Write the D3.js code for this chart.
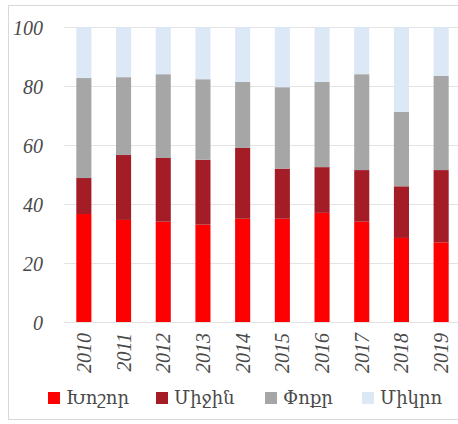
<!DOCTYPE html>
<html>
<head>
<meta charset="utf-8">
<script src="https://cdn.jsdelivr.net/npm/d3@7"></script>
<style>
  body { margin: 0; background: #fff; }
  svg { display: block; }
</style>
</head>
<body>
<div id="chart"></div>
<script>
// data (shares, %)
var years = ["2010", "2011", "2012", "2013", "2014", "2015", "2016", "2017", "2018", "2019"];
var large = [36.6, 34.6, 34.0, 33.0, 35.0, 35.0, 37.0, 34.0, 28.5, 27.0];
var medium = [12.2, 22.0, 21.6, 22.0, 24.0, 17.0, 15.5, 17.5, 17.5, 24.5];
var small = [33.9, 26.4, 28.4, 27.3, 22.4, 27.6, 28.9, 32.5, 25.2, 31.9];
var micro = [17.3, 17.0, 16.0, 17.7, 18.6, 20.4, 18.6, 16.0, 28.8, 16.6];
var seriesNames = ["Խոշոր", "Միջին", "Փոքր", "Միկրո"];
var seriesKeys = ["large", "medium", "small", "micro"];
var yTicks = [0, 20, 40, 60, 80, 100];

var colors = ["#ff0000", "#a31c26", "#a6a6a6", "#dce8f6"];

var width = 458;
var height = 424;

var svg = d3.select("#chart")
    .append("svg")
    .attr("width", width)
    .attr("height", height);

// outer chart border
svg.append("rect")
    .attr("x", 8.5)
    .attr("y", 5.5)
    .attr("width", 460)
    .attr("height", 414)
    .attr("fill", "#fff")
    .attr("stroke", "#d9d9d9")
    .attr("stroke-width", 1);

var table = years.map(function (y, i) {
    return { year: y, large: large[i], medium: medium[i], small: small[i], micro: micro[i] };
});

var x = d3.scaleBand()
    .domain(years)
    .range([64, 461])
    .paddingInner(0.62)
    .paddingOuter(0.31);

var y = d3.scaleLinear()
    .domain([0, 100])
    .range([322, 27]);

// gridlines
svg.append("g")
    .selectAll("line")
    .data(yTicks)
    .enter().append("line")
    .attr("x1", 64)
    .attr("x2", 461)
    .attr("y1", function (d) { return y(d) + 0.5; })
    .attr("y2", function (d) { return y(d) + 0.5; })
    .attr("stroke", "#e3e3e3")
    .attr("stroke-width", 1.2);

var stack = d3.stack().keys(seriesKeys);
var layers = stack(table);

svg.append("g")
    .selectAll("g")
    .data(layers)
    .enter().append("g")
    .attr("fill", function (d, i) { return colors[i]; })
    .selectAll("rect")
    .data(function (d) { return d; })
    .enter().append("rect")
    .attr("x", function (d) { return x(d.data.year); })
    .attr("width", x.bandwidth())
    .attr("y", function (d) { return y(d[1]); })
    .attr("height", function (d) { return y(d[0]) - y(d[1]); });

// y axis labels
var yAxis = d3.axisLeft(y)
    .tickValues(yTicks)
    .tickSize(0)
    .tickPadding(0);

var gy = svg.append("g")
    .attr("transform", "translate(43,0)")
    .call(yAxis);
gy.select(".domain").remove();
gy.selectAll("text")
    .attr("font-family", "Liberation Serif, serif")
    .attr("font-style", "italic")
    .attr("font-size", 20)
    .attr("fill", "#4a4a4a")
    .attr("dy", "0.35em");

// x axis labels, rotated
var xAxis = d3.axisBottom(x).tickSize(0).tickPadding(0);
var gx = svg.append("g")
    .attr("transform", "translate(0,333)")
    .call(xAxis);
gx.select(".domain").remove();
gx.selectAll("text")
    .attr("font-family", "Liberation Serif, serif")
    .attr("font-style", "italic")
    .attr("font-size", 20)
    .attr("fill", "#4a4a4a")
    .attr("text-anchor", "end")
    .attr("transform", "rotate(-90)")
    .attr("x", 0)
    .attr("y", 0)
    .attr("dy", "0.35em");

// legend
var legendX = [48, 156, 265, 362];
var legend = svg.append("g")
    .selectAll("g")
    .data(seriesNames)
    .enter().append("g")
    .attr("transform", function (d, i) { return "translate(" + legendX[i] + ",398)"; });

legend.append("rect")
    .attr("x", 0)
    .attr("y", -6)
    .attr("width", 12)
    .attr("height", 12)
    .attr("fill", function (d, i) { return colors[i]; });

legend.append("text")
    .attr("x", 18)
    .attr("y", 0)
    .attr("dy", "0.35em")
    .attr("font-family", "DejaVu Serif, serif")
    .attr("font-size", 18)
    .attr("fill", "#4a4a4a")
    .text(function (d) { return d; });
</script>
</body>
</html>
